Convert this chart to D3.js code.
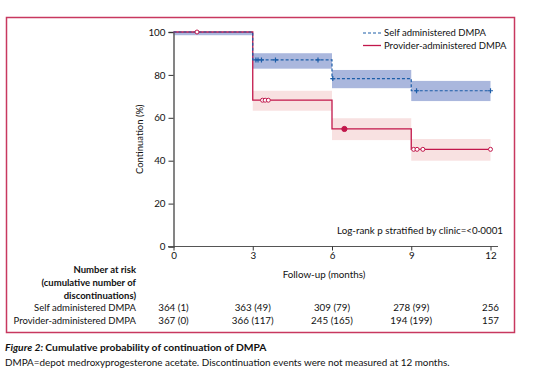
<!DOCTYPE html>
<html>
<head>
<meta charset="utf-8">
<script src="https://cdn.jsdelivr.net/npm/d3@7"></script>
<style>
  body { margin: 0; background: #fff; }
  text { font-family: Lato, "Open Sans", sans-serif; fill: #111; }
</style>
</head>
<body>
<script>
// data
var months = [0, 3, 6, 9, 12];
var yTicks = [0, 20, 40, 60, 80, 100];

// step values (continuation %) for each interval start
var selfSteps = [[0, 100], [3, 87], [6, 78.3], [9, 72.6], [12, 72.6]];
var provSteps = [[0, 100], [3, 68.2], [6, 54.8], [9, 45.3], [12, 45.3]];

// confidence bands [start, end, low, high]
var selfBand = [[0, 3, 98.5, 100], [3, 6, 82.9, 90.1], [6, 9, 73.8, 82.3], [9, 12, 67.8, 77.2]];
var provBand = [[3, 6, 63.3, 72.6], [6, 9, 49.6, 59.8], [9, 12, 40, 50.1]];

// censoring marks [month, value]
var selfCens = [[3.12, 87], [3.2, 87], [3.33, 87], [3.86, 87], [5.47, 87], [6.03, 78.3], [9.2, 72.6], [12, 72.6]];
var provCens = [[0.89, 100], [3.37, 68.2], [3.47, 68.2], [3.59, 68.2], [6.47, 54.8], [9.09, 45.3], [9.22, 45.3], [9.44, 45.3], [12, 45.3]];
var provFilled = [6.47];

// number at risk table
var selfRisk = ["364 (1)", "363 (49)", "309 (79)", "278 (99)", "256"];
var provRisk = ["367 (0)", "366 (117)", "245 (165)", "194 (199)", "157"];

var blue = "#1d5ea8", blueBand = "#aab7dd";
var red = "#c2174b", redBand = "#f8e1e1";

var W = 534, H = 391;
var svg = d3.select("body").append("svg").attr("width", W).attr("height", H);

// frame
svg.append("rect")
    .attr("x", 6.5).attr("y", 17.5).attr("width", 508).attr("height", 315)
    .attr("fill", "none").attr("stroke", "#c8385f").attr("stroke-width", 1.5);

var x = d3.scaleLinear().domain([0, 12]).range([173.5, 490.5]);
var y = d3.scaleLinear().domain([0, 100]).range([246.5, 32]);

// bands
function drawBands(data, col){
    svg.append("g").selectAll("rect")
        .data(data)
        .enter()
        .append("rect")
        .attr("x", function(d){ return x(d[0]); })
        .attr("width", function(d){ return x(d[1]) - x(d[0]); })
        .attr("y", function(d){ return y(d[3]); })
        .attr("height", function(d){ return y(d[2]) - y(d[3]); })
        .attr("fill", col);
}
drawBands(provBand, redBand);
drawBands(selfBand, blueBand);

// axes
var yAxis = svg.append("g")
    .attr("transform", "translate(" + x(0) + ",0)")
    .call(d3.axisLeft(y).tickValues(yTicks).tickSize(5).tickPadding(3));
yAxis.select(".domain").attr("stroke", "#666").attr("stroke-width", 1.6);
yAxis.selectAll("line").attr("stroke", "#333");
yAxis.selectAll("text").attr("font-size", "9.8px").attr("font-family", "Lato, sans-serif");

var xAxis = svg.append("g")
    .attr("transform", "translate(0," + y(0) + ")")
    .call(d3.axisBottom(x).tickValues(months).tickSize(4).tickPadding(2).tickSizeOuter(0));
xAxis.select(".domain").attr("d", "M168,0H498").attr("stroke", "#555").attr("stroke-width", 1.2);
xAxis.selectAll("line").attr("stroke", "#333");
xAxis.selectAll("text").attr("font-size", "9.8px").attr("font-family", "Lato, sans-serif");

// step lines
var line = d3.line()
    .x(function(d){ return x(d[0]); })
    .y(function(d){ return y(d[1]); })
    .curve(d3.curveStepAfter);

svg.append("path").datum(provSteps)
    .attr("d", line).attr("fill", "none")
    .attr("stroke", red).attr("stroke-width", 1.3);
svg.append("path").datum(selfSteps)
    .attr("d", line).attr("fill", "none")
    .attr("stroke", blue).attr("stroke-width", 1.2).attr("stroke-dasharray", "3,2");

// censor marks
svg.append("g").selectAll("circle")
    .data(provCens)
    .enter()
    .append("circle")
    .attr("cx", function(d){ return x(d[0]); })
    .attr("cy", function(d){ return y(d[1]); })
    .attr("r", function(d){ return provFilled.indexOf(d[0]) >= 0 ? 2.6 : 2; })
    .attr("fill", function(d){ return provFilled.indexOf(d[0]) >= 0 ? red : "#fff"; })
    .attr("stroke", red).attr("stroke-width", 1);

svg.append("g").selectAll("path")
    .data(selfCens)
    .enter()
    .append("path")
    .attr("d", function(d){
        var cx = x(d[0]), cy = y(d[1]);
        return "M" + (cx - 2.5) + "," + cy + "H" + (cx + 2.5) + "M" + cx + "," + (cy - 2.5) + "V" + (cy + 2.5);
    })
    .attr("stroke", blue).attr("stroke-width", 1.2);

// legend
var leg = svg.append("g").attr("transform", "translate(363,33)");
leg.append("line").attr("x1", 0).attr("x2", 18).attr("y1", 0).attr("y2", 0)
    .attr("stroke", blue).attr("stroke-width", 1.2).attr("stroke-dasharray", "3,2");
leg.append("text").attr("x", 21).attr("y", 3.3).attr("font-size", "9.5px").text("Self administered DMPA");
leg.append("line").attr("x1", 0).attr("x2", 18).attr("y1", 12.5).attr("y2", 12.5)
    .attr("stroke", red).attr("stroke-width", 1.3);
leg.append("text").attr("x", 21).attr("y", 15.8).attr("font-size", "9.5px").text("Provider-administered DMPA");

// axis titles
svg.append("text")
    .attr("transform", "translate(143," + y(50) + ") rotate(-90)")
    .attr("text-anchor", "middle").attr("font-size", "9.5px")
    .text("Continuation (%)");
svg.append("text")
    .attr("x", 324).attr("y", 278).attr("text-anchor", "middle").attr("font-size", "9.8px")
    .text("Follow-up (months)");

svg.append("text")
    .attr("x", 503).attr("y", 234).attr("text-anchor", "end").attr("font-size", "9.8px")
    .text("Log-rank p stratified by clinic=<0\u00b70001");

// number at risk
var heads = ["Number at risk", "(cumulative number of", "discontinuations)"];
svg.append("g").selectAll("text")
    .data(heads)
    .enter()
    .append("text")
    .attr("x", 136)
    .attr("y", function(d, i){ return 273 + i * 12.8; })
    .attr("text-anchor", "end").attr("font-size", "9.5px").attr("font-weight", "bold")
    .text(function(d){ return d; });

var rows = [["Self administered DMPA", selfRisk], ["Provider-administered DMPA", provRisk]];
rows.forEach(function(r, i){
    var yy = 311 + i * 12.5;
    svg.append("text").attr("x", 136).attr("y", yy)
        .attr("text-anchor", "end").attr("font-size", "9.5px").text(r[0]);
    svg.append("g").selectAll("text")
        .data(r[1])
        .enter()
        .append("text")
        .attr("x", function(d, j){ return x(months[j]); })
        .attr("y", yy)
        .attr("text-anchor", "middle").attr("font-size", "9.8px")
        .text(function(d){ return d; });
});

// caption
var cap = svg.append("text").attr("x", 5).attr("y", 351).attr("font-size", "10.3px").attr("font-weight", "bold");
cap.append("tspan").attr("font-style", "italic").text("Figure 2: ");
cap.append("tspan").text("Cumulative probability of continuation of DMPA");
svg.append("text").attr("x", 5).attr("y", 366).attr("font-size", "9.9px")
    .text("DMPA=depot medroxyprogesterone acetate. Discontinuation events were not measured at 12 months.");
</script>
</body>
</html>
